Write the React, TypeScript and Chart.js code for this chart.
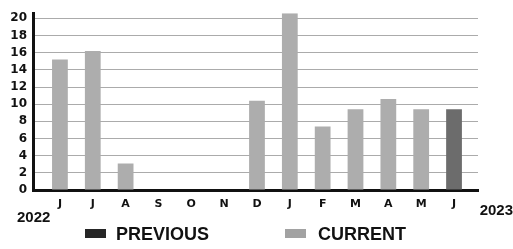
import React, { useEffect, useRef } from "react";
import { Chart, registerables } from "chart.js";
Chart.register(...registerables);

const months = ["J", "J", "A", "S", "O", "N", "D", "J", "F", "M", "A", "M", "J"];
const currentValues = [15.2, 16.2, 3.1, 0, 0, 0, 10.4, 20.6, 7.4, 9.4, 10.6, 9.4, null];
const previousValues = [null, null, null, null, null, null, null, null, null, null, null, null, 9.4];
const yTicks = [0, 2, 4, 6, 8, 10, 12, 14, 16, 18, 20];
const startYear = "2022";
const endYear = "2023";
const seriesNames = ["PREVIOUS", "CURRENT"];
const legendBoxColors = ["#262626", "#a2a2a2"];
const FONT = "'Liberation Sans', Arial, sans-serif";
const TICKFONT = "'DejaVu Sans', sans-serif";

const toPoints = (vals: (number | null)[]) => vals.map((v, i) => ({ x: i, y: v }));

const extrasPlugin = {
  id: "extras",
  afterDraw(chart: any) {
    const ctx = chart.ctx;
    ctx.save();
    ctx.fillStyle = "#111";
    ctx.font = `bold 15px ${FONT}`;
    ctx.textBaseline = "middle";
    ctx.textAlign = "left";
    ctx.fillText(startYear, 17, 218);
    ctx.textAlign = "right";
    ctx.fillText(endYear, 513, 211);
    // legend
    const items = [
      { x: 85, tx: 116 },
      { x: 285, tx: 318 },
    ];
    ctx.font = `bold 18px ${FONT}`;
    ctx.textAlign = "left";
    items.forEach((it, i) => {
      ctx.fillStyle = legendBoxColors[i];
      ctx.fillRect(it.x, 229, 21, 9);
      ctx.fillStyle = "#111";
      ctx.fillText(seriesNames[i], it.tx, 235);
    });
    ctx.restore();
  },
};

export default function App() {
  const ref = useRef<HTMLCanvasElement>(null);
  useEffect(() => {
    document.body.style.margin = "0";
    const chart = new Chart(ref.current!, {
      type: "bar",
      data: {
        datasets: [
          {
            label: seriesNames[0],
            data: toPoints(previousValues) as any,
            backgroundColor: "#6c6c6c",
            borderWidth: 0,
            barPercentage: 0.48,
            categoryPercentage: 1,
          },
          {
            label: seriesNames[1],
            data: toPoints(currentValues) as any,
            backgroundColor: "#adadad",
            borderWidth: 0,
            barPercentage: 0.48,
            categoryPercentage: 1,
          },
        ],
      },
      options: {
        animation: false,
        responsive: false,
        layout: { padding: { left: 0, right: 35, top: 9, bottom: 0 } },
        plugins: {
          tooltip: { enabled: false },
          legend: { display: false },
        },
        scales: {
          x: {
            type: "linear",
            stacked: true,
            offset: false,
            min: -0.82,
            max: 12.73,
            afterBuildTicks: (s: any) => { s.ticks = months.map((_, i) => ({ value: i })); },
            grid: { display: false },
            border: { color: "#111", width: 3 },
            ticks: {
              autoSkip: false,
              maxRotation: 0,
              color: "#111",
              font: { family: TICKFONT, size: 11, weight: "bold" },
              padding: 0,
              callback: (v: any) => months[Math.round(v)] ?? "",
            },
            afterFit: (s: any) => { s.height = 59; },
          },
          y: {
            stacked: false,
            min: 0,
            max: 20.6,
            afterBuildTicks: (s: any) => { s.ticks = yTicks.map((v) => ({ value: v })); },
            grid: { color: "#ababab", lineWidth: 1, drawTicks: false },
            border: { color: "#111", width: 3 },
            ticks: { autoSkip: false, color: "#111", font: { family: TICKFONT, size: 12, weight: "bold" }, padding: 6 },
            afterFit: (s: any) => { s.width = 33; },
          },
        },
      },
      plugins: [extrasPlugin],
    });
    return () => chart.destroy();
  }, []);
  return <canvas ref={ref} width={513} height={249} style={{ display: "block" }} />;
}
